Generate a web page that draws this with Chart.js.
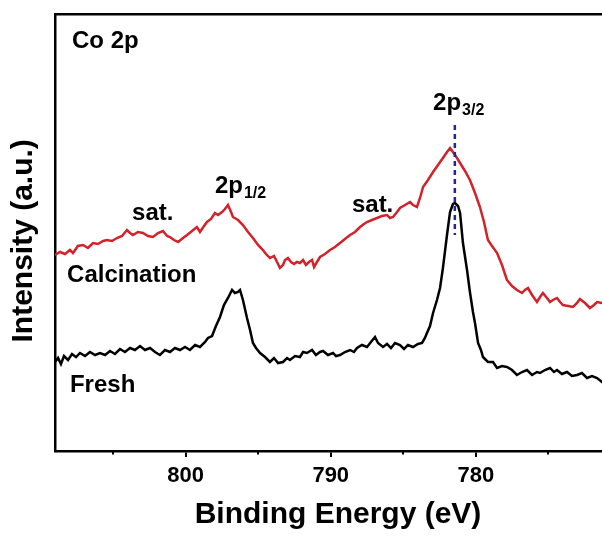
<!DOCTYPE html>
<html><head><meta charset="utf-8">
<script src="https://cdn.jsdelivr.net/npm/chart.js@4/dist/chart.umd.min.js"></script>
<style>
html,body{margin:0;padding:0;overflow:hidden;background:#fff;width:602px;height:536px}
#wrap{position:relative;width:640px;height:536px}
</style></head><body>
<div id="wrap"><canvas id="c" width="640" height="536"></canvas></div>
<script>
const FONT = '"Liberation Sans", Arial, sans-serif';

const energyCalcination = [809.00,808.66,808.31,807.97,807.76,807.42,807.07,806.73,806.38,806.04,
805.69,805.42,805.07,804.73,804.38,804.04,803.83,803.63,803.28,802.94,
802.59,802.25,801.90,801.56,801.28,801.08,800.80,800.52,800.18,799.90,
799.56,799.22,799.01,798.73,798.53,798.25,797.98,797.77,797.49,797.29,
797.08,796.87,796.74,796.39,796.05,795.70,795.36,795.01,794.67,794.46,
794.19,793.91,793.70,793.50,793.29,793.15,792.95,792.74,792.53,792.33,
792.12,791.91,791.71,791.50,791.29,791.15,790.95,790.74,790.40,790.05,
789.71,789.36,789.02,788.67,788.33,787.98,787.71,787.50,787.16,786.81,
786.47,786.12,785.92,785.71,785.43,785.23,784.88,784.54,784.33,784.06,
783.85,783.64,783.30,782.95,782.61,782.27,781.99,781.78,781.58,781.30,
781.09,780.75,780.41,780.06,779.72,779.44,779.17,778.89,778.54,778.20,
777.86,777.51,777.17,776.82,776.62,776.41,776.13,775.79,775.58,775.38,
775.10,774.89,774.69,774.41,774.20,774.00,773.65,773.31,773.03,772.83,
772.48,772.14,771.86,771.65,771.31,771.03,770.69,770.34,770.00];
const intensityCalcination = [196,199,197,201,198,205,206,203,208,207,
210,211,210,213,215,221,218,216,219,218,
215,214,218,220,215,214,211,209,213,216,
220,224,219,225,229,232,238,236,239,242,
246,239,234,231,226,219,213,206,201,197,
193,195,189,183,186,191,193,189,187,189,
188,191,186,189,191,184,189,194,197,201,
204,208,212,216,219,224,227,229,231,233,
235,236,233,234,239,243,246,249,246,244,
253,264,271,279,286,293,299,303,299,293,
288,280,271,258,244,229,211,205,198,186,
171,165,161,158,161,163,156,149,154,158,
153,149,151,153,149,146,145,144,148,152,
148,143,146,149,148,146,148,145,147];

const energyFresh = [809.00,808.79,808.59,808.38,808.10,807.83,807.55,807.28,806.93,806.59,
806.24,805.90,805.55,805.21,804.87,804.52,804.18,803.83,803.49,803.14,
802.80,802.45,802.11,801.77,801.42,801.08,800.73,800.39,800.04,799.70,
799.35,799.01,798.66,798.46,798.18,797.91,797.63,797.36,797.08,796.80,
796.60,796.39,796.25,796.05,795.77,795.56,795.36,795.15,794.87,794.53,
794.19,793.91,793.63,793.29,793.01,792.81,792.46,792.12,791.91,791.64,
791.29,791.02,790.74,790.53,790.19,789.84,789.64,789.36,789.02,788.67,
788.40,788.19,787.85,787.50,787.23,786.95,786.74,786.40,786.12,785.85,
785.57,785.23,784.95,784.68,784.33,783.99,783.71,783.51,783.37,783.16,
782.95,782.68,782.47,782.27,781.99,781.78,781.58,781.44,781.23,781.09,
780.89,780.61,780.41,780.20,780.06,779.85,779.65,779.51,779.17,778.82,
778.54,778.20,777.86,777.51,777.17,776.82,776.48,776.13,775.79,775.58,
775.24,774.89,774.62,774.41,774.07,773.72,773.38,773.03,772.69,772.34,
772.00,771.65,771.31,771.03,770.69,770.34,770.00];
const intensityFresh = [89,93,87,95,91,97,94,98,95,99,
96,98,96,100,97,102,99,103,101,105,
101,103,99,96,101,99,103,101,104,101,
106,104,109,113,115,125,134,146,153,161,
158,159,161,151,133,121,108,103,98,94,
89,93,88,89,93,91,95,94,99,98,
101,96,99,100,96,98,95,96,99,101,
99,103,106,104,109,114,108,104,107,103,
108,106,102,106,104,107,108,113,118,125,
138,151,163,183,216,239,247,248,245,238,
208,181,159,139,128,108,101,94,89,89,
83,85,84,81,76,79,81,76,79,78,
81,83,79,81,77,79,75,76,78,73,
75,73,69,71,68,70,67];

const peakLineEnergy = [781.45, 781.45];
const peakLineIntensity = [326, 216];

const xMajorTicks = [800, 790, 780];
const xMinorTicks = [805, 795, 785, 775];

const labelText = ['Co 2p', 'sat.', '2p', 'sat.', '2p', 'Calcination', 'Fresh'];
const labelSub = ['', '', '1/2', '', '3/2', '', ''];
const labelEnergy = [807.83, 803.69, 797.98, 788.54, 782.95, 808.17, 807.97];
const labelIntensity = [403, 231, 258, 239, 341, 169, 59];

const toXY = (xs, ys) => xs.map((x, i) => ({x: x, y: ys[i]}));

const decorPlugin = {
  id: 'decor',
  afterDraw(chart) {
    const {ctx, scales: {x, y}, chartArea} = chart;
    ctx.save();
    ctx.strokeStyle = '#000';
    ctx.lineWidth = 2;
    xMinorTicks.forEach(v => {
      const p = Math.round(x.getPixelForValue(v));
      ctx.beginPath();
      ctx.moveTo(p, chartArea.bottom);
      ctx.lineTo(p, chartArea.bottom + 3.5);
      ctx.stroke();
    });
    ctx.fillStyle = '#000';
    ctx.textAlign = 'left';
    ctx.textBaseline = 'alphabetic';
    labelText.forEach((t, i) => {
      const px = x.getPixelForValue(labelEnergy[i]);
      const py = y.getPixelForValue(labelIntensity[i]);
      ctx.font = 'bold 24px ' + FONT;
      ctx.fillText(t, px, py);
      if (labelSub[i]) {
        const w = ctx.measureText(t).width;
        ctx.font = 'bold 16px ' + FONT;
        ctx.fillText(labelSub[i], px + w + 1, py + 5);
      }
    });
    ctx.restore();
  }
};

new Chart(document.getElementById('c'), {
  type: 'line',
  data: {
    datasets: [
      {label: '2p3/2 position', data: toXY(peakLineEnergy, peakLineIntensity), borderColor: '#24249c', borderWidth: 2.5, borderDash: [5, 4], pointRadius: 0, order: 0},
      {label: 'Calcination', data: toXY(energyCalcination, intensityCalcination), borderColor: '#d2222a', borderWidth: 2.5, pointRadius: 0, order: 1},
      {label: 'Fresh', data: toXY(energyFresh, intensityFresh), borderColor: '#000000', borderWidth: 2.5, pointRadius: 0, order: 2}
    ]
  },
  options: {
    responsive: false,
    animation: false,
    devicePixelRatio: 1,
    layout: {padding: {top: 14, right: 19, left: 0, bottom: 0}},
    plugins: {legend: {display: false}, tooltip: {enabled: false}},
    elements: {line: {tension: 0}},
    scales: {
      x: {
        type: 'linear', position: 'bottom', min: 770, max: 809, reverse: true,
        afterBuildTicks: s => { s.ticks = xMajorTicks.map(v => ({value: v})); },
        afterFit: s => { s.height = 85; },
        grid: {display: true, drawOnChartArea: false, drawTicks: true, tickLength: 6, color: '#000', lineWidth: 2},
        border: {display: true, color: '#000', width: 2.5},
        ticks: {color: '#000', font: {family: FONT, size: 22, weight: 'bold'}, padding: 6, maxRotation: 0, autoSkip: false},
        title: {display: true, text: 'Binding Energy (eV)', color: '#000', font: {family: FONT, size: 30, weight: 'bold'}, padding: {top: 0, bottom: 3}}
      },
      xTop: {
        type: 'linear', position: 'top', min: 770, max: 809, reverse: true,
        afterFit: s => { s.height = 0; },
        grid: {display: false, drawTicks: false}, ticks: {display: false},
        border: {display: true, color: '#000', width: 2.5}
      },
      y: {
        min: 0, max: 437,
        afterFit: s => { s.width = 55; },
        grid: {display: false, drawTicks: false}, ticks: {display: false},
        border: {display: true, color: '#000', width: 2.5},
        title: {display: true, text: 'Intensity (a.u.)  ', color: '#000', font: {family: FONT, size: 30, weight: 'bold'}, padding: {top: 6, bottom: 0}}
      }
    }
  },
  plugins: [decorPlugin]
});
</script>
</body></html>
